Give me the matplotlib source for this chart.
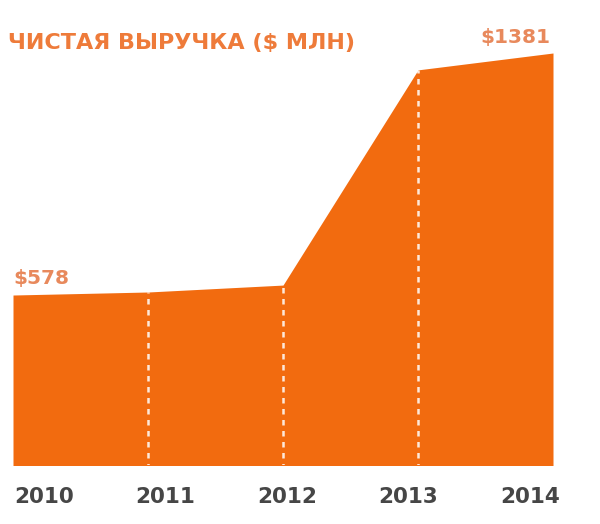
import matplotlib
matplotlib.use("Agg")
import matplotlib.pyplot as plt

years = [2010, 2011, 2012, 2013, 2014]
revenue = [578, 588, 611, 1325, 1381]
year_labels = ["2010", "2011", "2012", "2013", "2014"]
title = "ЧИСТАЯ ВЫРУЧКА ($ МЛН)"
first_label = "$578"
last_label = "$1381"

ORANGE = "#F26B0F"
TITLE_C = "#EE7B3A"
VAL_C = "#E8895C"
YEAR_C = "#464646"

W, H = 600, 524
fig = plt.figure(figsize=(W / 100, H / 100), dpi=100)
fig.patch.set_facecolor("white")
ax = fig.add_axes([13 / W, 1 - 465 / H, (553 - 13) / W, (465 - 53) / H])
ax.set_xlim(years[0], years[-1])
ax.set_ylim(14, revenue[-1])
ax.axis("off")

ax.fill_between(years, 0, revenue, color=ORANGE, linewidth=0)
for x, v in zip(years[1:-1], revenue[1:-1]):
    ax.plot([x, x], [0, v], color="white", lw=1.8, ls=(0, (2.2, 2.2)), alpha=0.85)

# value labels
ax.annotate(first_label, (years[0], revenue[0]), xytext=(0, 5), textcoords="offset points",
            ha="left", va="bottom", color=VAL_C, fontsize=14.5, fontweight="bold",
            annotation_clip=False)
ax.annotate(last_label, (years[-1], revenue[-1]), xytext=(-2, 4), textcoords="offset points",
            ha="right", va="bottom", color=VAL_C, fontsize=14.5, fontweight="bold",
            annotation_clip=False)

fig.text(8 / W, 1 - 43 / H, title, ha="left", va="center", color=TITLE_C,
         fontsize=16, fontweight="bold")

for i, lab in enumerate(year_labels):
    fig.text((44 + i * 121.5) / W, 1 - 497 / H, lab, ha="center", va="center",
             color=YEAR_C, fontsize=15.5, fontweight="bold")

fig.savefig("out.png", dpi=100, facecolor="white")
